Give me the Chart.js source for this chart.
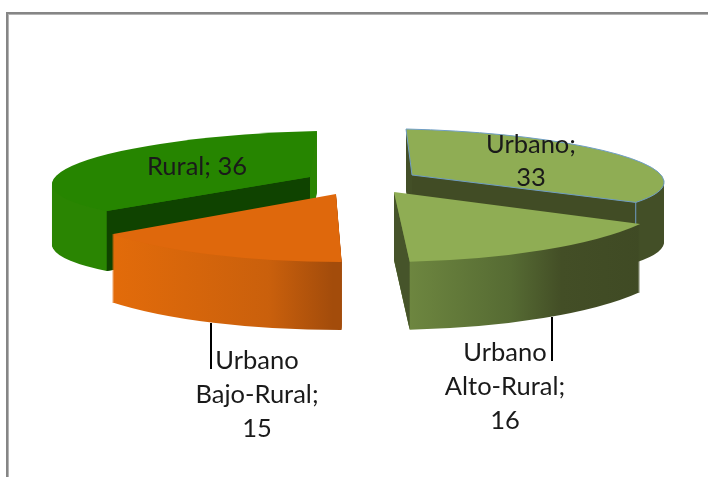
<!DOCTYPE html>
<html>
<head>
<meta charset="utf-8">
<style>
html,body{margin:0;padding:0;background:#fff;overflow:hidden}
#wrap{position:relative;width:708px;height:477px}
#frame{position:absolute;left:6px;top:12px;width:702px;height:465px;box-sizing:border-box;border-top:2px solid #868686;border-left:2px solid #868686;box-shadow:inset 1px 1px 0 #b4b4b4}
canvas{position:absolute;left:0;top:0}
</style>
<script src="https://cdn.jsdelivr.net/npm/chart.js@4"></script>
</head>
<body>
<div id="wrap"><div id="frame"></div><canvas id="c" width="708" height="477"></canvas></div>
<script>
const categories = ['Urbano', 'Urbano Alto-Rural', 'Urbano Bajo-Rural', 'Rural'];
const values = [33, 16, 15, 36];

const topColors = ['#8fad54', '#8fad54', '#df680c', '#268500'];
const paintOrder = [3, 0, 1, 2];
const FONT = '25.5px Lato, Carlito, sans-serif';
const R = 100;

// Per-slice 3D projection and styling
const projection = [
  {dx: 58, dy: -63.5, right: [252, 6], up: [-6, -46], depth: 60},
  {dx: 40, dy: -46.5, right: [282, -2], up: [2, -70], depth: 68},
  {dx: -18, dy: -44.5, right: [281, 4], up: [12, -68], depth: 68},
  {dx: -44, dy: -61.5, right: [258, -6], up: [7, -46], depth: 60}
];
const wallStops = [
  [[0, '#434f27'], [1, '#434f27']],
  [[0.05, '#6e8740'], [0.42, '#566b33'], [0.6, '#434e26'], [0.9, '#3f4a24']],
  [[-0.8, '#e46c0a'], [-0.2, '#ca600c'], [0.03, '#a34c0b']],
  [[0, '#2a8502'], [1, '#2a8502']]
];
const innerWall = [
  {edge: 'end', color: '#414c25'},
  {edge: 'end', color: '#46542a'},
  null,
  {edge: 'start', color: '#0f4300'}
];
const outline = ['#6f9dc4', null, null, null];
const labelPlace = [
  {dx: 119, dy: -22.5, lines: [1, 1], gap: 33.5},
  {dx: 111, dy: 169, lines: [1, 1, 1], gap: 34},
  {dx: -79, dy: 175, lines: [1, 1, 1], gap: 34},
  {dx: -113, dy: -2, lines: [2], gap: 34}
];
const leaders = [null, {x: 158, y0: 125, y1: 169}, {x: -125, y0: 129, y1: 175}, null];

function labelLines(i) {
  const parts = categories[i].split(' ');
  parts[parts.length - 1] += ';';
  if (labelPlace[i].lines.length === 1) return [parts.join(' ') + ' ' + values[i]];
  return parts.concat(String(values[i]));
}

function applyProjection(ctx, el, p, shift) {
  ctx.translate(el.x + p.dx, el.y + p.dy + shift);
  ctx.transform(p.right[0] / R, p.right[1] / R, -p.up[0] / R, -p.up[1] / R, 0, 0);
  ctx.translate(-el.x, -el.y);
}

function project(el, p, angle, shift) {
  const lx = Math.cos(angle), ly = Math.sin(angle);
  return [
    el.x + p.dx + p.right[0] * lx - p.up[0] * ly,
    el.y + p.dy + p.right[1] * lx - p.up[1] * ly + shift
  ];
}

function withFill(el, fill, fn) {
  const orig = el.options;
  el.options = Object.create(orig, {backgroundColor: {value: fill}});
  fn();
  el.options = orig;
}

const pie3d = {
  id: 'pie3d',
  beforeDatasetsDraw(chart) {
    const ctx = chart.ctx;
    const arcs = chart.getDatasetMeta(0).data;
    paintOrder.forEach(i => {
      const el = arcs[i], p = projection[i];
      // outer side: the library arc swept down through the depth
      for (let s = p.depth; s >= 1; s--) {
        ctx.save();
        applyProjection(ctx, el, p, s);
        const g = ctx.createLinearGradient(el.x + wallStops[i][0][0] * R, 0, el.x + wallStops[i][wallStops[i].length - 1][0] * R, 0);
        const a = wallStops[i][0][0], b = wallStops[i][wallStops[i].length - 1][0];
        wallStops[i].forEach(st => g.addColorStop((st[0] - a) / (b - a), st[1]));
        withFill(el, g, () => el.draw(ctx));
        ctx.restore();
      }
      // cut face
      const w = innerWall[i];
      if (w) {
        const ang = w.edge === 'end' ? el.endAngle : el.startAngle;
        const e0 = project(el, p, ang, 0), e1 = project(el, p, ang, p.depth);
        const c0 = [el.x + p.dx, el.y + p.dy], c1 = [c0[0], c0[1] + p.depth];
        ctx.fillStyle = w.color;
        ctx.beginPath();
        ctx.moveTo(c0[0], c0[1]); ctx.lineTo(e0[0], e0[1]); ctx.lineTo(e1[0], e1[1]); ctx.lineTo(c1[0], c1[1]);
        ctx.closePath(); ctx.fill();
      }
      // top face
      ctx.save();
      applyProjection(ctx, el, p, 0);
      withFill(el, topColors[i], () => el.draw(ctx));
      ctx.restore();
      // outline
      if (outline[i]) {
        ctx.save();
        ctx.save();
        applyProjection(ctx, el, p, 0);
        ctx.beginPath();
        ctx.moveTo(el.x, el.y);
        ctx.arc(el.x, el.y, el.outerRadius, el.startAngle, el.endAngle);
        ctx.closePath();
        ctx.restore();
        ctx.strokeStyle = outline[i];
        ctx.lineWidth = 1;
        ctx.stroke();
        const a0 = project(el, p, el.endAngle, 0), a1 = project(el, p, el.endAngle, p.depth);
        ctx.beginPath(); ctx.moveTo(a0[0], a0[1]); ctx.lineTo(a1[0], a1[1]); ctx.stroke();
        ctx.restore();
      }
    });
    // leaders and labels
    ctx.save();
    ctx.strokeStyle = '#000'; ctx.lineWidth = 2;
    leaders.forEach((l, i) => {
      if (!l) return;
      const el = arcs[i];
      ctx.beginPath();
      ctx.moveTo(el.x + projection[i].dx + l.x, el.y + projection[i].dy + l.y0);
      ctx.lineTo(el.x + projection[i].dx + l.x, el.y + projection[i].dy + l.y1);
      ctx.stroke();
    });
    ctx.font = FONT; ctx.fillStyle = '#1a1a1a'; ctx.textAlign = 'center'; ctx.textBaseline = 'alphabetic';
    labelPlace.forEach((lp, i) => {
      const el = arcs[i];
      const cx = el.x + projection[i].dx + lp.dx, cy = el.y + projection[i].dy + lp.dy;
      labelLines(i).forEach((t, k) => ctx.fillText(t, cx, cy + k * lp.gap));
    });
    ctx.restore();
    return false;
  }
};

new Chart(document.getElementById('c'), {
  type: 'pie',
  data: {
    labels: categories,
    datasets: [{data: values, backgroundColor: topColors, borderWidth: 0, radius: R}]
  },
  options: {
    responsive: false,
    animation: false,
    events: [],
    layout: {padding: 0},
    plugins: {legend: {display: false}, tooltip: {enabled: false}}
  },
  plugins: [pie3d]
});
</script>
</body>
</html>
